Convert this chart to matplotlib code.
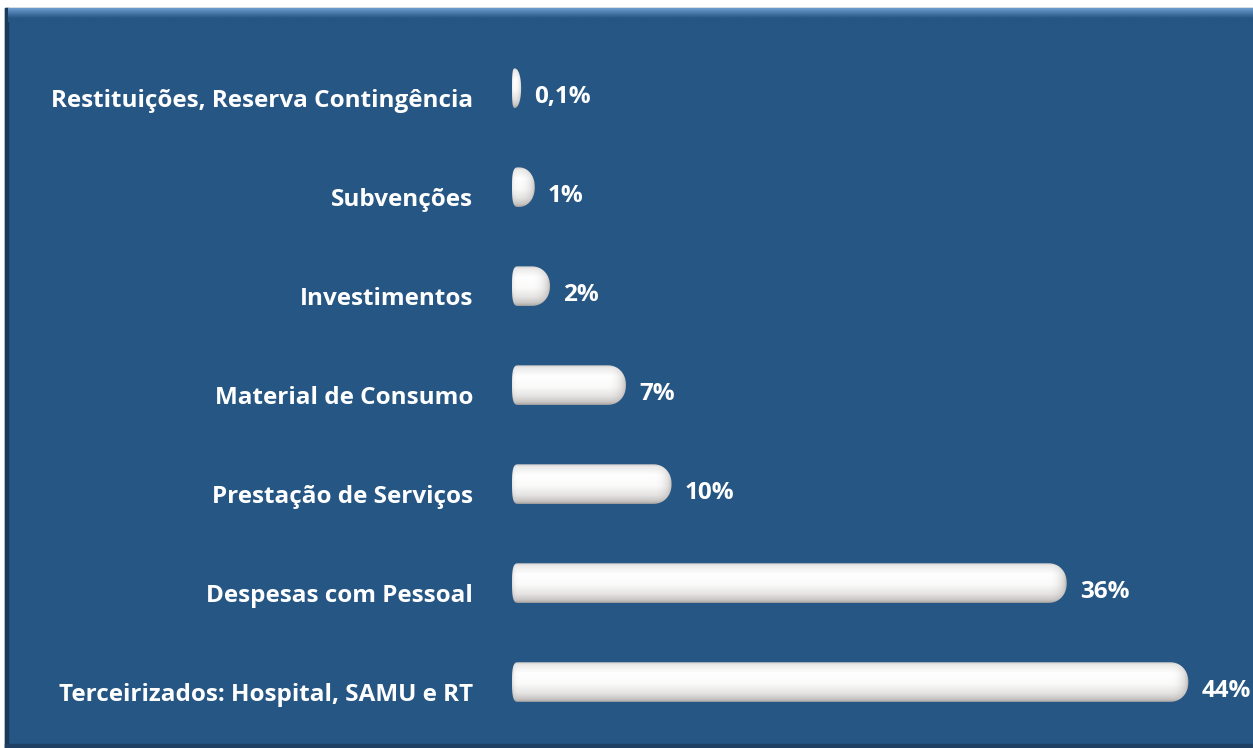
"""
Horizontal cylinder-style bar chart of expense shares
"""
import numpy as np
import matplotlib as mpl
import matplotlib.pyplot as plt
from matplotlib.patches import PathPatch, Rectangle
from matplotlib.path import Path

mpl.use('Agg')

# data, bottom row first
categories = [
    "Terceirizados: Hospital, SAMU e RT",
    "Despesas com Pessoal",
    "Prestação de Serviços",
    "Material de Consumo",
    "Investimentos",
    "Subvenções",
    "Restituições, Reserva Contingência",
]
values = [44, 36, 10, 7, 2, 1, 0.1]
value_labels = ["44%", "36%", "10%", "7%", "2%", "1%", "0,1%"]

W, H = 1253, 748
BLUE = "#265683"
FONT = "Open Sans"


def superellipse_arc(cx, cy, rx, ry, n, t0, t1, num=60):
    t = np.linspace(t0, t1, num)
    c, s = np.cos(t), np.sin(t)
    x = cx + rx * np.sign(c) * np.abs(c) ** (2 / n)
    y = cy + ry * np.sign(s) * np.abs(s) ** (2 / n)
    return np.column_stack([x, y])


def bar_path(x0, w, yc, h):
    rx_r = min(1.2, w * 0.7)
    rx_l = min(0.4, w * 0.3)
    right = superellipse_arc(x0 + w - rx_r, yc, rx_r, h / 2, 2.1,
                             -np.pi / 2, np.pi / 2)
    left = superellipse_arc(x0 + rx_l, yc, rx_l, h / 2, 3.0,
                            np.pi / 2, 3 * np.pi / 2)
    pts = np.vstack([right, left, right[:1]])
    return Path(pts, closed=True), rx_r, rx_l


fig = plt.figure(figsize=(W / 100, H / 100), dpi=100, facecolor="white")

# blue panel with a bevelled look
fig.patches.append(Rectangle((5 / W, 0), (W - 5) / W, (H - 8) / H,
                             transform=fig.transFigure, color=BLUE, zorder=-3))
fig.patches.append(Rectangle((5 / W, 0), 3 / W, (H - 8) / H,
                             transform=fig.transFigure, color="#1b3a5a", zorder=-2))
fig.patches.append(Rectangle((5 / W, 0), (W - 5) / W, 4 / H,
                             transform=fig.transFigure, color="#1f4063", zorder=-2))
top = fig.add_axes([8 / W, (H - 22) / H, (W - 8) / W, 14 / H])
top.axis("off")
grad = np.linspace(0, 1, 30)[:, None]
c_hi = np.array(mpl.colors.to_rgb("#6c9ccf"))
c_lo = np.array(mpl.colors.to_rgb(BLUE))
top_img = c_hi + (c_lo - c_hi) * np.clip(grad * 1.4, 0, 1)[..., None]
top.imshow(np.repeat(top_img, 4, axis=1), aspect="auto", extent=(0, 1, 0, 1))

ax = fig.add_axes([512 / W, 3 / H, (W - 512) / W, 737 / H])
ax.axis("off")
px_per_unit = 15.2
ax.set_xlim(0, (W - 512) / px_per_unit)
ax.set_ylim(-0.636, 6.81)

bar_h = 0.40
cap = 0.5
t_pts = [0, 0.06, 0.28, 0.55, 0.78, 0.92, 1.0]
s_pts = [0.70, 0.88, 1.0, 0.97, 0.84, 0.68, 0.48]
lo = np.array([0.36, 0.33, 0.31])

for i, (cat, val, lab) in enumerate(zip(categories, values, value_labels)):
    w = val + cap
    x0 = 0.0
    path, rx_r, rx_l = bar_path(x0, w, i, bar_h)
    patch = PathPatch(path, facecolor="none", edgecolor="none")
    ax.add_patch(patch)

    ny, nx = 80, 400
    tv = np.linspace(0, 1, ny)
    sv = np.interp(tv, t_pts, s_pts)[:, None]
    xs = np.linspace(x0, x0 + w, nx)
    fh = np.ones(nx)
    u_r = np.clip((xs - (x0 + w - rx_r)) / rx_r, 0, 1)
    fh *= 0.55 + 0.45 * np.sqrt(1 - u_r ** 2)
    u_l = np.clip(((x0 + rx_l) - xs) / rx_l, 0, 1)
    fh *= 0.85 + 0.15 * np.sqrt(1 - u_l ** 2)
    s = np.clip(sv * fh[None, :], 0, 1)
    img = lo + (1 - lo) * s[..., None]
    y0 = i - bar_h / 2
    im = ax.imshow(img, extent=(x0, x0 + w, y0, y0 + bar_h),
                   aspect="auto", interpolation="bilinear", zorder=2)
    im.set_clip_path(patch)

    ax.text(-2.57, i - 0.13, cat, ha="right", va="center", color="white",
            fontsize=17.5, fontweight="bold", family=FONT, clip_on=False)
    ax.text(w + 0.85, i - 0.09, lab, ha="left", va="center", color="white",
            fontsize=17.5, fontweight="bold", family=FONT, clip_on=False)

fig.savefig("out.png", dpi=100, facecolor="white")
